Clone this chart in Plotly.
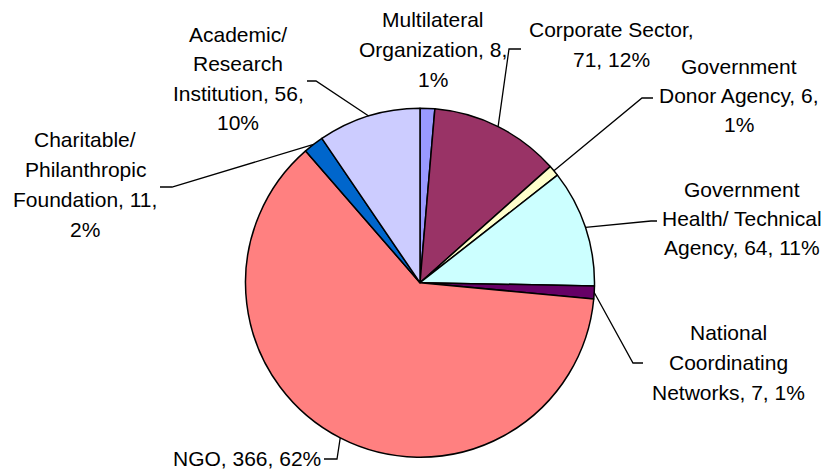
import math
import plotly.graph_objects as go

# ---------------- data ----------------
categories = [
    "Multilateral Organization",
    "Corporate Sector",
    "Government Donor Agency",
    "Government Health/ Technical Agency",
    "National Coordinating Networks",
    "NGO",
    "Charitable/ Philanthropic Foundation",
    "Academic/ Research Institution",
]
counts = [8, 71, 6, 64, 7, 366, 11, 56]
colors = ["#9999FF", "#993366", "#FFFFCC", "#CCFFFF", "#660066", "#FF8080", "#0066CC", "#CCCCFF"]

# words per line for wrapping each label "name, value, pct%"
wrap_words = [[1, 2, 1], [2, 2], [1, 3, 1], [1, 2, 3], [1, 1, 3], [3], [1, 1, 2, 1], [1, 1, 2, 1]]

# ---------------- layout (pixels) ----------------
W, H = 827, 471
CX, CY, R = 420.0, 282.7, 174.5

# label block: centre x, first baseline, line spacing, leader elbow + end
label_layout = [
    dict(x=433, y0=27, dy=30, leader=None),
    dict(x=611, y0=37, dy=29.5, leader=[(509, 49), (521, 49)]),
    dict(x=739, y0=74, dy=29, leader=[(642, 98), (653, 98)]),
    dict(x=742, y0=197, dy=29, leader=[(651, 221), (657, 221)]),
    dict(x=728, y0=340, dy=29.7, leader=[(633, 363), (643, 363)]),
    dict(x=247, y0=466, dy=0, leader=[(337, 459), (324, 459)]),
    dict(x=85, y0=147, dy=30, leader=[(172, 187), (160, 187)]),
    dict(x=238, y0=42, dy=29.3, leader=[(316, 81), (307, 81)]),
]

FONT = dict(family="Liberation Sans, Arial, sans-serif", size=21, color="black")


def px(x, y):
    return x / W, 1 - y / H


fig = go.Figure()
fig.add_trace(go.Pie(
    labels=categories,
    values=counts,
    sort=False,
    direction="clockwise",
    rotation=0,
    textinfo="none",
    hoverinfo="label+value+percent",
    marker=dict(colors=colors, line=dict(color="black", width=1.5)),
    domain=dict(x=[(CX - R) / W, (CX + R) / W], y=[(H - CY - R) / H, (H - CY + R) / H]),
))

total = sum(counts)
annotations = []
shapes = []
cum = 0
for i, (cat, v) in enumerate(zip(categories, counts)):
    pct = round(100 * v / total)
    words = f"{cat}, {v}, {pct}%".split(" ")
    lines = []
    k = 0
    for n in wrap_words[i]:
        lines.append(" ".join(words[k:k + n]))
        k += n
    lay = label_layout[i]
    for j, ln in enumerate(lines):
        base = lay["y0"] + j * lay["dy"]
        xx, yy = px(lay["x"], base - 7.3)
        annotations.append(dict(
            x=xx, y=yy, xref="paper", yref="paper", text=ln, showarrow=False,
            xanchor="center", yanchor="middle", font=FONT,
        ))
    # leader line from slice mid-angle on the rim
    ang = 2 * math.pi * (cum + v / 2) / total
    cum += v
    if lay["leader"]:
        sx = CX + R * math.sin(ang)
        sy = CY - R * math.cos(ang)
        pts = [(sx, sy)] + lay["leader"]
        path = ""
        for m, (a, b) in enumerate(pts):
            pa, pb = px(a, b)
            path += ("M" if m == 0 else " L") + f" {pa:.5f} {pb:.5f}"
        shapes.append(dict(type="path", xref="paper", yref="paper", path=path,
                           line=dict(color="black", width=1.3)))

fig.update_layout(
    width=W, height=H,
    margin=dict(l=0, r=0, t=0, b=0),
    showlegend=False,
    paper_bgcolor="white",
    plot_bgcolor="white",
    annotations=annotations,
    shapes=shapes,
)

fig.write_html(
    "out.html",
    config={"displayModeBar": False},
    post_script="document.body.style.margin='0';document.body.style.overflow='hidden';",
)
